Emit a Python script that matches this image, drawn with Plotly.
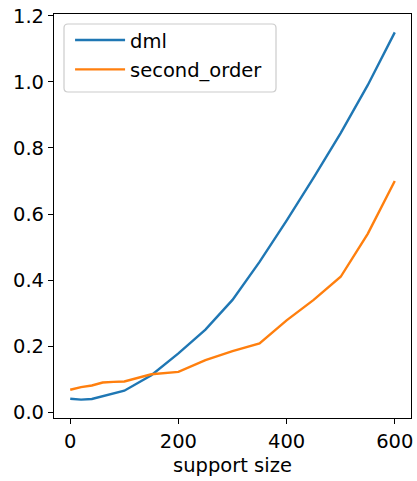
import plotly.graph_objects as go

# support sizes evaluated
support_size = [0, 20, 40, 60, 80, 100, 150, 200, 250, 300, 350, 400, 450, 500, 550, 600]

# mean error per method
dml = [0.041, 0.038, 0.040, 0.049, 0.056, 0.065, 0.112, 0.178, 0.250, 0.340,
       0.455, 0.580, 0.710, 0.845, 0.990, 1.150]
second_order = [0.068, 0.076, 0.081, 0.090, 0.092, 0.093, 0.115, 0.122, 0.158, 0.185,
                0.208, 0.278, 0.340, 0.410, 0.540, 0.700]

x_ticks = [0, 200, 400, 600]
y_ticks = [0.0, 0.2, 0.4, 0.6, 0.8, 1.0, 1.2]

FONT = "DejaVu Sans"
FS = 19.5

fig = go.Figure()
fig.add_trace(go.Scatter(x=support_size, y=dml, mode="lines", name="dml", legendgroup="a",
                         line=dict(color="#1f77b4", width=2.4)))
fig.add_trace(go.Scatter(x=support_size, y=second_order, mode="lines", name="second_order",
                         legendgroup="b", line=dict(color="#ff7f0e", width=2.4)))

# rounded legend frame, in pixels from the top-left corner of the plot area
x0, x1, y0, y1, r = 10, 222, -10, -78, 4
frame = (f"M{x0 + r},{y0} L{x1 - r},{y0} Q{x1},{y0} {x1},{y0 - r} "
         f"L{x1},{y1 + r} Q{x1},{y1} {x1 - r},{y1} "
         f"L{x0 + r},{y1} Q{x0},{y1} {x0},{y1 + r} "
         f"L{x0},{y0 - r} Q{x0},{y0} {x0 + r},{y0} Z")
fig.add_shape(type="path", xref="paper", yref="paper", xsizemode="pixel", ysizemode="pixel",
              xanchor=0, yanchor=1, path=frame, line=dict(color="#cccccc", width=1.2),
              fillcolor="rgba(255,255,255,0.8)", layer="above")

axis_common = dict(showline=True, linecolor="black", linewidth=1.2, mirror=True,
                   ticks="outside", ticklen=5, tickwidth=1.2, tickcolor="black",
                   showgrid=False, zeroline=False,
                   tickfont=dict(family=FONT, size=FS, color="black"))

fig.update_layout(
    width=417, height=481,
    margin=dict(l=54, r=4, t=14, b=63),
    paper_bgcolor="white", plot_bgcolor="white",
    font=dict(family=FONT, size=FS, color="black"),
    showlegend=True,
    legend=dict(x=0.045, y=0.983, xanchor="left", yanchor="top",
                bgcolor="rgba(0,0,0,0)", borderwidth=0,
                font=dict(family=FONT, size=FS, color="black"),
                tracegroupgap=1, itemwidth=50),
    xaxis=dict(range=[-30, 630], tickvals=x_ticks, ticktext=[str(v) for v in x_ticks],
               title=dict(text="support size", font=dict(family=FONT, size=FS), standoff=6),
               **axis_common),
    yaxis=dict(range=[-0.0175, 1.2055], tickvals=y_ticks,
               ticktext=[f"{v:.1f}" for v in y_ticks], **axis_common),
)

fig.write_html("out.html")
